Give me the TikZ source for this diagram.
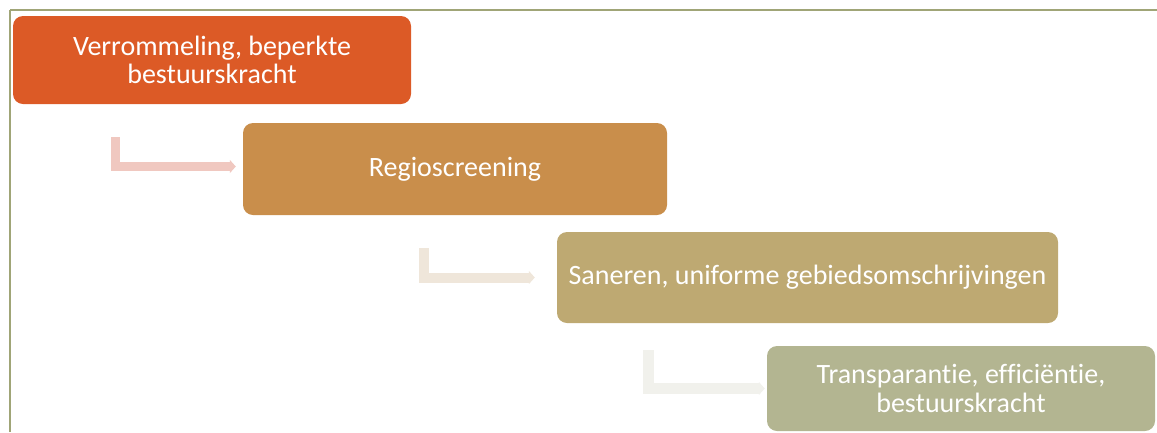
\documentclass[tikz,border=0pt]{standalone}
\usepackage{fontspec}
\setmainfont{Carlito}[Ligatures=NoCommon]
\usetikzlibrary{arrows.meta}
\definecolor{kader}{HTML}{A0A577}
\definecolor{oranje}{HTML}{DC5A26}
\definecolor{koper}{HTML}{C98E4B}
\definecolor{zand}{HTML}{BEA972}
\definecolor{olijf}{HTML}{B3B591}
\definecolor{roze}{HTML}{F0C8C0}
\definecolor{beige}{HTML}{EFE6DA}
\definecolor{grijs}{HTML}{F1F1EC}

\begin{document}
\begin{tikzpicture}[x=1pt,y=-1pt,
			stap/.style={rounded corners=10pt, text=white, align=center, inner sep=0pt,
				font=\fontsize{28}{28.5}\selectfont},
			pijl/.style={line width=10pt, -{Triangle[length=6pt,width=13pt]}}]
			\useasboundingbox (0,0) rectangle (1157,432);
			\draw[kader, line width=2pt] (10,432) -- (10,10);
			\draw[kader, line width=1.3pt] (10,10) -- (1157,10);
			\node[stap, fill=oranje, minimum width=398pt, minimum height=88pt] (verrommeling) at (212,60) {Verrommeling, beperkte\\bestuurskracht};
			\node[stap, fill=koper, minimum width=424pt, minimum height=92pt] (screening) at (455,169) {Regioscreening};
			\node[stap, fill=zand, minimum width=501pt, minimum height=91pt] (saneren) at (807.5,277.5) {Saneren, uniforme gebiedsomschrijvingen};
			\node[stap, fill=olijf, minimum width=388pt, minimum height=85pt] (transparantie) at (961,388.5) {Transparantie, efficiëntie,\\bestuurskracht};
			\coordinate (start1) at (115.5,137);
			\coordinate (start2) at (424,248);
			\coordinate (start3) at (648.5,350);
			\draw[pijl, roze, line width=9pt, shorten >=7pt] (start1) |- ([yshift=2.5pt]screening.west);
			\draw[pijl, beige, shorten >=22pt] (start2) |- (saneren.west);
			\draw[pijl, grijs, line width=11pt, shorten >=2pt] (start3) |- (transparantie.west);
		\end{tikzpicture}
\end{document}
